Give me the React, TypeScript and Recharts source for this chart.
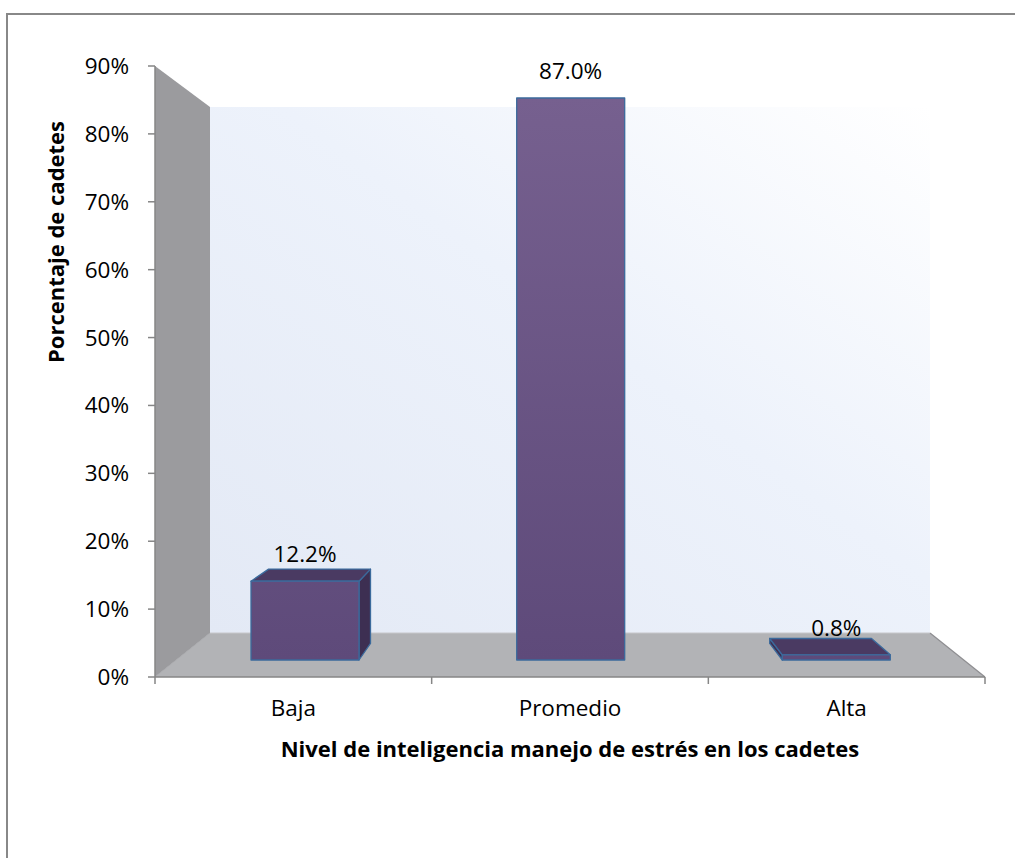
import React from "react";
import { BarChart, Bar, XAxis, YAxis, LabelList } from "recharts";

const categories = ["Baja", "Promedio", "Alta"];
const shares = [0.122, 0.87, 0.008];
const yTicks = [0, 0.1, 0.2, 0.3, 0.4, 0.5, 0.6, 0.7, 0.8, 0.9];

const data = categories.map((c, i) => ({ name: c, value: shares[i] }));

const FONT = "'Open Sans', sans-serif";

// layout of the 3D box
const L = 155;
const R = 985;
const T = 66;
const B = 677;
const DX = 55;
const DY = 44;

// vanishing point of the perspective and bar depth factor
const VPX = 560;
const VPY = 369;
const K = 0.057;

function back(p: number[]) {
  return [p[0] + K * (VPX - p[0]), p[1] + K * (VPY - p[1])];
}

function poly(pts: number[][]) {
  return "M" + pts.map((p) => p[0].toFixed(1) + "," + p[1].toFixed(1)).join("L") + "Z";
}

function Bar3D(props: any) {
  const { x, y, width, height } = props;
  if (width == null || height == null) return null;
  const h = Math.max(height, 1);
  const top = y + height - h;
  const tl = [x, top];
  const tr = [x + width, top];
  const br = [x + width, top + h];
  const bl = [x, top + h];
  const faces: React.ReactNode[] = [];
  if (x + width < VPX) {
    faces.push(<path key="r" d={poly([tr, br, back(br), back(tr)])} fill="#3d2f52" />);
  }
  if (x > VPX) {
    faces.push(<path key="l" d={poly([tl, bl, back(bl), back(tl)])} fill="#3d2f52" />);
  }
  if (top > VPY) {
    faces.push(<path key="t" d={poly([tl, tr, back(tr), back(tl)])} fill="#4a3a62" />);
  }
  return (
    <g stroke="#3b6a9c" strokeWidth={1.3} strokeLinejoin="round">
      {faces}
      <path d={poly([tl, tr, br, bl])} fill="url(#barGrad)" />
    </g>
  );
}

function BarLabel(props: any) {
  const { x, y, width, value } = props;
  return (
    <text
      x={x + width / 2}
      y={y - 19}
      textAnchor="middle"
      fontFamily={FONT}
      fontSize={22.5}
      fill="#000"
    >
      {(value * 100).toFixed(1) + "%"}
    </text>
  );
}

function CatTick(props: any) {
  const { x, payload, index } = props;
  const off = payload?.offset || (R - L) / 6;
  return (
    <g>
      <line x1={x - off} y1={B} x2={x - off} y2={B + 7} stroke="#868686" strokeWidth={1.5} />
      {index === categories.length - 1 && (
        <line x1={x + off} y1={B} x2={x + off} y2={B + 7} stroke="#868686" strokeWidth={1.5} />
      )}
      <text x={x} y={B + 39} textAnchor="middle" fontFamily={FONT} fontSize={22.5} fill="#000">
        {payload.value}
      </text>
    </g>
  );
}

function YTitle() {
  return (
    <text
      x={0}
      y={0}
      transform="translate(64,242) rotate(-90)"
      textAnchor="middle"
      fontFamily={FONT}
      fontWeight={700}
      fontSize={22}
      fill="#000"
    >
      Porcentaje de cadetes
    </text>
  );
}

export default function App() {
  return (
    <div
      style={{
        position: "absolute",
        left: 0,
        top: 0,
        width: 1015,
        height: 858,
        background: "#fff",
        overflow: "hidden",
      }}
    >
      <div
        style={{
          position: "absolute",
          left: 6,
          top: 13,
          width: 1100,
          height: 1000,
          borderLeft: "2px solid #888",
          borderTop: "2px solid #888",
        }}
      />
      <svg width={1015} height={858} style={{ position: "absolute", left: 0, top: 0 }}>
        <defs>
          <linearGradient id="wallGrad" x1="0" y1="1" x2="1" y2="0">
            <stop offset="0" stopColor="#e3e9f5" />
            <stop offset="0.55" stopColor="#edf2fb" />
            <stop offset="1" stopColor="#ffffff" />
          </linearGradient>
        </defs>
        <polygon
          points={`${L + DX},${T + 41} ${R - DX},${T + 41} ${R - DX},${B - DY} ${L + DX},${B - DY}`}
          fill="url(#wallGrad)"
        />
        <polygon
          points={`${L},${T} ${L + DX},${T + 41} ${L + DX},${B - DY} ${L},${B}`}
          fill="#9b9b9e"
        />
        <polygon
          points={`${L},${B} ${L + DX},${B - DY} ${R - DX},${B - DY} ${R},${B}`}
          fill="#b2b3b6"
        />
        <line x1={L + DX} y1={B - DY} x2={R - DX} y2={B - DY} stroke="#c6c7ca" strokeWidth={1} />
        <line x1={R - DX} y1={B - DY} x2={R} y2={B} stroke="#8e8e91" strokeWidth={1.2} />
        <line x1={L} y1={B} x2={L + DX} y2={B - DY} stroke="#a9aaad" strokeWidth={1} />
      </svg>
      <div style={{ position: "absolute", left: 0, top: 0 }}>
        <BarChart
          width={1015}
          height={858}
          data={data}
          margin={{ top: T, right: 1015 - R, left: 0, bottom: 858 - B - 60 }}
          barSize={108}
        >
          <defs>
            <linearGradient id="barGrad" x1="0" y1="98" x2="0" y2="660" gradientUnits="userSpaceOnUse">
              <stop offset="0" stopColor="#76608f" />
              <stop offset="1" stopColor="#5e4a7a" />
            </linearGradient>
          </defs>
          <XAxis
            dataKey="name"
            xAxisId="main"
            height={60}
            stroke="#868686"
            strokeWidth={1.5}
            tickLine={false}
            tick={<CatTick />}
            interval={0}
            label={{
              value: "Nivel de inteligencia manejo de estrés en los cadetes",
              position: "insideBottom",
              offset: -20,
              fontFamily: FONT,
              fontWeight: 700,
              fontSize: 22,
              fill: "#000",
            }}
          />
          <XAxis dataKey="name" xAxisId="bars" hide height={0} padding={{ left: 17, right: 16 }} />
          <YAxis
            yAxisId="main"
            type="number"
            width={L}
            domain={[0, 0.9]}
            allowDataOverflow
            ticks={yTicks}
            interval={0}
            tickFormatter={(v: number) => Math.round(v * 100) + "%"}
            stroke="#868686"
            strokeWidth={1.5}
            tickSize={7}
            tickMargin={19}
            tick={{ fontFamily: FONT, fontSize: 22.5, fill: "#000" }}
            label={<YTitle />}
          />
          <YAxis yAxisId="bars" hide width={0} domain={[-0.0263, 0.9195]} />
          <Bar
            dataKey="value"
            xAxisId="bars"
            yAxisId="bars"
            shape={<Bar3D />}
            isAnimationActive={false}
          >
            <LabelList dataKey="value" content={<BarLabel />} />
          </Bar>
        </BarChart>
      </div>
    </div>
  );
}
